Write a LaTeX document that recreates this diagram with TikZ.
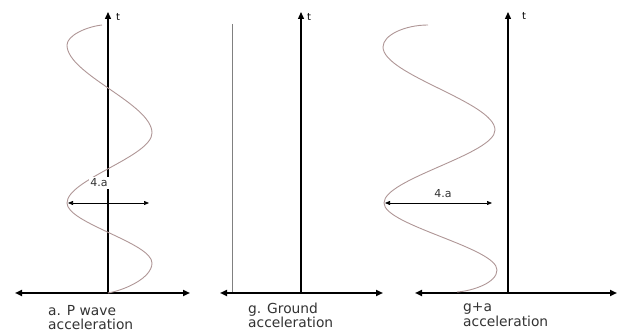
\documentclass[tikz,border=0pt]{standalone}
\usepackage{fontspec}
\setmainfont{DejaVu Sans}
\usetikzlibrary{arrows.meta}
\definecolor{wavecol}{RGB}{175,150,150}
\definecolor{txt}{RGB}{50,50,50}
\tikzset{
  vaxis/.style={line width=1.3pt,-{Triangle[length=7pt,width=6pt]}},
  haxis/.style={line width=2pt,{Triangle[length=7pt,width=6pt]}-{Triangle[length=7pt,width=6pt]}},
  wave/.style={wavecol,line width=0.9pt},
  dim/.style={line width=0.7pt,{Triangle[length=5pt,width=4pt]}-{Triangle[length=5pt,width=4pt]}},
  tlab/.style={font=\fontsize{10}{12}\selectfont,text=black,inner sep=0pt},
  dlab/.style={font=\fontsize{11}{13}\selectfont,text=txt,inner sep=1.5pt},
  caption/.style={font=\fontsize{13.8}{14.2}\selectfont,text=txt,align=left,inner sep=0pt,anchor=north west},
}
\begin{document}
\begin{tikzpicture}[x=1pt,y=-1pt]
\useasboundingbox (0,0) rectangle (624,336);
% ---------- panel 1
\coordinate (o1) at (108,293);
\coordinate (t1) at (108,12);
\coordinate (l1) at (15,293);
\coordinate (r1) at (190,293);
\draw[vaxis] (o1) -- (t1);
\draw[haxis] (l1) -- (r1);
\node[tlab] (tl1) at (118,17) {t};
\draw[wave] (102,25) .. controls (85,27) and (67,36) .. (67,45)
  .. controls (67,74.3) and (152,103.7) .. (152,133)
  .. controls (152,156.3) and (67,179.7) .. (67,203)
  .. controls (67,223) and (152,243) .. (152,263)
  .. controls (152,278) and (125,290) .. (o1);
\coordinate (da1) at (68,203);
\coordinate (db1) at (149,203);
\draw[dim] (da1) -- (db1);
\node[dlab,fill=white] (la1) at (99,183) {4.a};
\node[caption] (c1) at (48,305) {a. P wave\\acceleration};
% ---------- panel 2
\coordinate (o2) at (301,293);
\coordinate (t2) at (301,12);
\coordinate (l2) at (220,293);
\coordinate (r2) at (383,293);
\coordinate (ga) at (232,24);
\coordinate (gb) at (232,293);
\draw[gray,line width=1pt] (ga) -- (gb);
\draw[vaxis] (o2) -- (t2);
\draw[haxis] (l2) -- (r2);
\node[tlab] (tl2) at (309,17) {t};
\node[caption] (c2) at (248,303) {g. Ground\\acceleration};
% ---------- panel 3
\coordinate (o3) at (508,293);
\coordinate (t3) at (508,12);
\coordinate (l3) at (415,293);
\coordinate (r3) at (617,293);
\draw[vaxis] (o3) -- (t3);
\draw[haxis] (l3) -- (r3);
\node[tlab] (tl3) at (524,16) {t};
\coordinate (w3s) at (428,25);
\coordinate (w3e) at (457,292);
\draw[wave] (w3s) .. controls (405,25) and (383,35) .. (383,47)
  .. controls (383,74.7) and (495,102.3) .. (495,130)
  .. controls (495,154.3) and (384,178.7) .. (384,203)
  .. controls (384,225.3) and (497,247.7) .. (497,270)
  .. controls (497,283) and (472,291) .. (w3e);
\coordinate (da3) at (385,203);
\coordinate (db3) at (492,203);
\draw[dim] (da3) -- (db3);
\node[dlab] (la3) at (443,194) {4.a};
\node[caption] (c3) at (463,303) {g+a\\acceleration};
\end{tikzpicture}
\end{document}
